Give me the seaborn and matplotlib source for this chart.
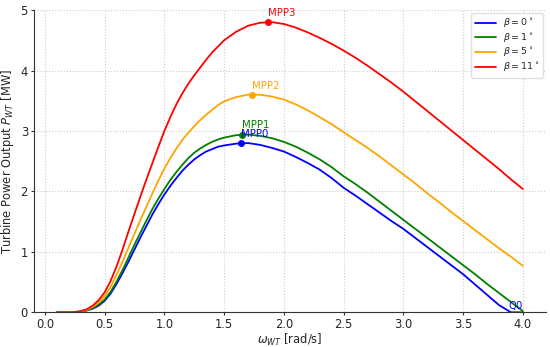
import numpy as np
import pandas as pd
import matplotlib
matplotlib.use("Agg")
import matplotlib.pyplot as plt
import seaborn as sns

# rotor speed [rad/s] (denser where the curves bend fast)
omega = [0.1, 0.2, 0.25, 0.3, 0.35, 0.4, 0.45, 0.5, 0.55, 0.6, 0.65, 0.7,
         0.75, 0.8, 0.85, 0.9, 0.95, 1.0, 1.05, 1.1, 1.15, 1.2, 1.25, 1.3,
         1.35, 1.4, 1.45, 1.5,
         1.6, 1.7, 1.8, 1.9, 2.0, 2.1, 2.2, 2.3, 2.4, 2.5, 2.6, 2.7, 2.8,
         2.9, 3.0, 3.1, 3.2, 3.3, 3.4, 3.5, 3.6, 3.7, 3.8, 3.9, 4.0]

# turbine power [MW]
p_beta0 = [0.00, 0.00, 0.003, 0.01, 0.03, 0.06, 0.11, 0.19, 0.31, 0.47, 0.65, 0.84,
           1.04, 1.24, 1.43, 1.62, 1.79, 1.95, 2.09, 2.22, 2.34, 2.44, 2.53, 2.60,
           2.66, 2.70, 2.74, 2.76,
           2.79, 2.80, 2.77, 2.72, 2.66, 2.57, 2.47, 2.36, 2.22, 2.06, 1.93, 1.79, 1.65,
           1.51, 1.38, 1.23, 1.08, 0.93, 0.78, 0.63, 0.46, 0.29, 0.12, 0.00, 0.00]
p_beta1 = [0.00, 0.00, 0.003, 0.01, 0.03, 0.07, 0.13, 0.21, 0.34, 0.51, 0.70, 0.91,
           1.12, 1.32, 1.52, 1.71, 1.88, 2.04, 2.19, 2.32, 2.44, 2.55, 2.64, 2.71,
           2.77, 2.82, 2.86, 2.89,
           2.93, 2.94, 2.92, 2.88, 2.82, 2.74, 2.64, 2.53, 2.40, 2.25, 2.12, 1.98, 1.83,
           1.68, 1.53, 1.38, 1.23, 1.08, 0.93, 0.78, 0.63, 0.47, 0.32, 0.17, 0.02]
p_beta5 = [0.00, 0.00, 0.005, 0.015, 0.04, 0.09, 0.16, 0.27, 0.42, 0.62, 0.84, 1.07,
           1.30, 1.53, 1.75, 1.97, 2.18, 2.38, 2.55, 2.71, 2.85, 2.97, 3.08, 3.18,
           3.27, 3.35, 3.43, 3.49,
           3.56, 3.60, 3.60, 3.57, 3.52, 3.44, 3.34, 3.23, 3.11, 2.98, 2.85, 2.72, 2.58,
           2.43, 2.28, 2.13, 1.97, 1.82, 1.66, 1.51, 1.36, 1.21, 1.06, 0.92, 0.77]
p_beta11 = [0.00, 0.00, 0.005, 0.02, 0.05, 0.11, 0.20, 0.33, 0.52, 0.76, 1.04, 1.34,
            1.63, 1.92, 2.20, 2.47, 2.74, 3.00, 3.23, 3.44, 3.62, 3.78, 3.92, 4.05,
            4.18, 4.30, 4.40, 4.50,
            4.64, 4.74, 4.79, 4.80, 4.77, 4.71, 4.63, 4.54, 4.44, 4.33, 4.21, 4.08, 3.94,
            3.80, 3.65, 3.49, 3.33, 3.17, 3.01, 2.85, 2.69, 2.53, 2.37, 2.20, 2.04]

labels = [r'$\beta = 0^\circ$', r'$\beta = 1^\circ$', r'$\beta = 5^\circ$', r'$\beta = 11^\circ$']
colors = ['blue', 'green', 'orange', 'red']

# maximum power points
mpp_names = ['MPP0', 'MPP1', 'MPP2', 'MPP3']
mpp_omega = [1.64, 1.65, 1.73, 1.87]
mpp_power = [2.80, 2.94, 3.60, 4.80]

df = pd.DataFrame({
    'omega': omega * 4,
    'power': p_beta0 + p_beta1 + p_beta5 + p_beta11,
    'beta': [lab for lab in labels for _ in omega],
})

sns.set_style("ticks")
plt.rcParams['font.family'] = ['DejaVu Sans']

fig, ax = plt.subplots(figsize=(5.5, 3.47), dpi=100)
fig.subplots_adjust(left=0.061, right=0.993, top=0.971, bottom=0.1)

sns.lineplot(data=df, x='omega', y='power', hue='beta', palette=colors,
             hue_order=labels, linewidth=1.3, ax=ax)

for name, w, p, c in zip(mpp_names, mpp_omega, mpp_power, colors):
    ax.plot(w, p, 'o', color=c, markersize=4)
    ax.annotate(name, (w, p), xytext=(0, 3), textcoords='offset points',
                color=c, fontsize=7.3, ha='left', va='bottom')

ax.annotate('Q0', (3.88, 0), xytext=(0, 1), textcoords='offset points',
            color='blue', fontsize=7.3, ha='left', va='bottom')

ax.set_ylim(0, 5)
ax.set_xlim(-0.095, 4.195)
ax.set_xticks(np.arange(0, 4.01, 0.5))
ax.grid(True, linestyle=':', color='#cccccc', linewidth=0.8)
ax.tick_params(labelsize=8.3, length=2.5, color='#333333', pad=1.5)
for s in ['left', 'bottom']:
    ax.spines[s].set_color('#333333')
sns.despine(ax=ax)

ax.set_xlabel(r'$\omega_{WT}$ [rad/s]', fontsize=8.3, labelpad=1)
ax.set_ylabel(r'Turbine Power Output $P_{WT}$ [MW]', fontsize=8.3, labelpad=3)
ax.legend(loc='upper right', fontsize=6.8, framealpha=0.9, edgecolor='#dddddd',
          handlelength=2.2, labelspacing=0.15, borderaxespad=0.3)

fig.savefig('out.png', dpi=100)
